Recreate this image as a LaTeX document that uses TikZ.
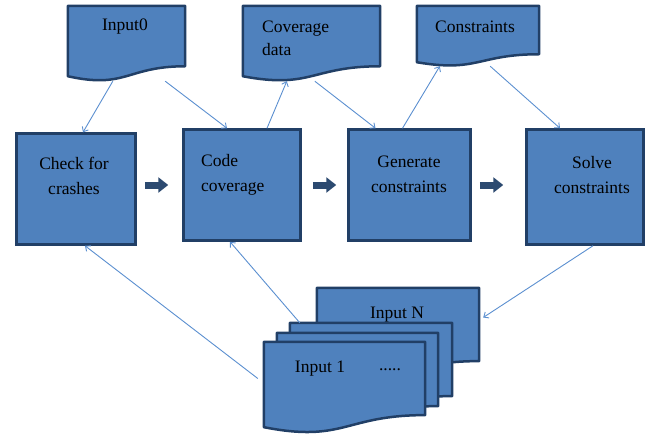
\documentclass[tikz,border=0pt]{standalone}
\usepackage{fontspec}
\setmainfont{Liberation Serif}
\usetikzlibrary{arrows.meta,calc}

\definecolor{boxfill}{HTML}{4F81BD}
\definecolor{boxline}{HTML}{213F66}
\definecolor{bigblue}{HTML}{2C4A70}
\definecolor{linkblue}{HTML}{5B8FD0}

\newcommand{\docwave}[1]{%
	\draw[docline] (#1.north west) -- (#1.north east) -- ($(#1.north east)!0.802!(#1.south east)$)
		.. controls ($(#1.north)!0.802!(#1.south)$) and ($(#1.north)!1.107!(#1.south)$) .. ($(#1.north west)!0.934!(#1.south west)$) -- cycle;}

\begin{document}
\begin{tikzpicture}[x=1pt,y=-1pt,
	box/.style={draw=boxline,fill=boxfill,line width=2.5pt,inner sep=0pt},
	docframe/.style={inner sep=0pt},
	docline/.style={draw=boxline,fill=boxfill,line width=2.5pt,line join=round},
	txt/.style={font=\fontsize{17.5}{25}\selectfont,inner sep=0pt,align=center},
	link/.style={draw=linkblue,line width=0.9pt,-{Straight Barb[length=4pt,width=7pt]}},
	bigarrow/.style={draw=bigblue,line width=7pt,-{Triangle[length=10pt,width=15pt]}}]
	\useasboundingbox (0,0) rectangle (649,437);
	% the four steps
	\node[box,minimum width=119,minimum height=111] (check) at (76,189) {};
	\node[box,minimum width=117,minimum height=111] (code) at (242,185) {};
	\node[box,minimum width=122,minimum height=111] (gen) at (409.5,185) {};
	\node[box,minimum width=117,minimum height=115] (solve) at (585,187) {};
	\node[txt] (checkt) at (74,176) {Check for\\crashes};
	\node[txt,anchor=west,align=left] (codet) at (201,174.5) {Code\\coverage};
	\node[txt] (gent) at (409,174) {Generate\\constraints};
	\node[txt] (solvet) at (592,175.5) {Solve\\constraints};
	% documents on top
	\node[docframe,minimum width=117,minimum height=75] (in0) at (126.5,43.5) {};
	\node[docframe,minimum width=137,minimum height=75] (cov) at (311.5,43.5) {};
	\node[docframe,minimum width=122,minimum height=60] (cons) at (478,36) {};
	\docwave{in0}
	\docwave{cov}
	\docwave{cons}
	\node[txt] (in0t) at (125,27) {Input0};
	\node[txt,anchor=west,align=left,font=\fontsize{17.5}{23}\selectfont] (covt) at (262,38.5) {Coverage\\data};
	\node[txt] (const) at (475,27) {Constraints};
	% stack of inputs
	\node[docframe,minimum width=162,minimum height=91] (inN) at (398,333.5) {};
	\node[docframe,minimum width=162,minimum height=91] (d3) at (371,368.5) {};
	\node[docframe,minimum width=161,minimum height=91] (d2) at (357.5,378.5) {};
	\node[docframe,minimum width=161,minimum height=91] (in1) at (344.5,387.5) {};
	\docwave{inN}
	\node[txt] (inNt) at (397,315) {Input N};
	\docwave{d3}
	\docwave{d2}
	\docwave{in1}
	\node[txt] (in1t) at (320,369) {Input 1};
	\node[txt] (dots) at (390,370) {.....};
	% flow
	\draw[bigarrow] ([xshift=8pt]check.east |- code.west) -- ([xshift=-14pt]code.west);
	\draw[bigarrow] ([xshift=11pt]code.east) -- ([xshift=-11pt]gen.west);
	\draw[bigarrow] ([xshift=8pt]gen.east) -- ([xshift=-22pt]gen.east -| solve.west);
	\draw[link] ([xshift=45pt]in0.south west) -- ([xshift=7pt]check.north);
	\draw[link] ([xshift=-20pt]in0.south east) -- ([xshift=-15pt]code.north);
	\draw[link] ([xshift=25pt]code.north) -- ([xshift=44pt]cov.south west);
	\draw[link] ([xshift=72pt]cov.south west) -- ([xshift=-34pt]gen.north);
	\draw[link] ([xshift=-7pt]gen.north) -- ([xshift=23pt]cons.south west);
	\draw[link] ([xshift=-49pt]cons.south east) -- ([xshift=-25pt]solve.north);
	\draw[link] ([xshift=8pt]solve.south) -- ([xshift=4pt,yshift=16pt]inN.east);
	\draw[link] ([xshift=-6pt,yshift=9pt]in1.west) -- ([xshift=9pt]check.south);
	\draw[link] ([xshift=10pt]d3.north west) -- ([xshift=-12pt]code.south);
\end{tikzpicture}
\end{document}
